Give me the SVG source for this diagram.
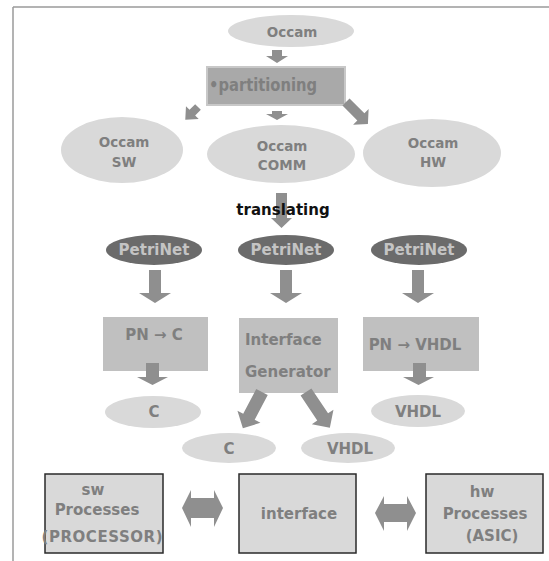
<svg xmlns="http://www.w3.org/2000/svg" width="549" height="561" viewBox="0 0 549 561">
<style>
.t{font-family:"DejaVu Sans","Liberation Sans",sans-serif;font-weight:bold;fill:#7f7f7f;text-anchor:middle}
.ell{fill:#d9d9d9}
.pn{fill:#6b6b6b}
.pnt{font-family:"DejaVu Sans","Liberation Sans",sans-serif;font-weight:bold;fill:#c4c4c4;text-anchor:middle;font-size:15px}
.box{fill:#c0c0c0}
.bbox{fill:#d9d9d9;stroke:#2a2a2a;stroke-width:1.5}
.arr{fill:#8f8f8f}
</style>
<rect width="549" height="561" fill="#ffffff"/>
<g id="frame" fill="none" stroke="#9a9a9a" stroke-width="1.5">
<line x1="13" y1="7" x2="549" y2="7"/>
<line x1="13" y1="7" x2="13" y2="561"/>
</g>
<g id="occam-top"><ellipse class="ell" cx="291" cy="31" rx="63" ry="16"/><text class="t" x="292" y="37" font-size="13.5">Occam</text></g>
<g id="partitioning"><rect x="207" y="67" width="138" height="38" fill="#a9a9a9" stroke="#c8c8c8" stroke-width="2"/><text class="t" x="209" y="91" font-size="17" style="text-anchor:start" textLength="108" lengthAdjust="spacingAndGlyphs">•partitioning</text></g>
<g id="occam-sw"><ellipse class="ell" cx="122" cy="150" rx="61" ry="33"/><text class="t" x="124" y="147" font-size="13.5">Occam</text><text class="t" x="124" y="167" font-size="13.5">SW</text></g>
<g id="occam-comm"><ellipse class="ell" cx="281" cy="154" rx="74" ry="29"/><text class="t" x="282" y="151" font-size="13.5">Occam</text><text class="t" x="282" y="170" font-size="13.5">COMM</text></g>
<g id="occam-hw"><ellipse class="ell" cx="432" cy="153" rx="69" ry="34"/><text class="t" x="433" y="148" font-size="13.5">Occam</text><text class="t" x="433" y="167" font-size="13.5">HW</text></g>
<g id="petrinet-left"><ellipse class="pn" cx="154" cy="250" rx="48" ry="15"/><text class="pnt" x="154" y="255">PetriNet</text></g>
<g id="petrinet-mid"><ellipse class="pn" cx="286" cy="250" rx="48" ry="15"/><text class="pnt" x="286" y="255">PetriNet</text></g>
<g id="petrinet-right"><ellipse class="pn" cx="419" cy="250" rx="48" ry="15"/><text class="pnt" x="419" y="255">PetriNet</text></g>
<g id="pn-c"><rect class="box" x="103" y="317" width="105" height="54"/><text class="t" x="154" y="340" font-size="15">PN → C</text></g>
<g id="interface-generator"><rect class="box" x="239" y="318" width="99" height="75"/><text class="t" x="245" y="345" font-size="15" style="text-anchor:start">Interface</text><text class="t" x="245" y="377" font-size="15" style="text-anchor:start">Generator</text></g>
<g id="pn-vhdl"><rect class="box" x="363" y="317" width="116" height="54"/><text class="t" x="415" y="350" font-size="15">PN → VHDL</text></g>
<g id="c-left"><ellipse class="ell" cx="153" cy="412" rx="48" ry="16"/><text class="t" x="154" y="417" font-size="15">C</text></g>
<g id="vhdl-right"><ellipse class="ell" cx="418" cy="411" rx="47" ry="16"/><text class="t" x="418" y="417" font-size="15">VHDL</text></g>
<g id="c-mid"><ellipse class="ell" cx="229" cy="448" rx="47" ry="15"/><text class="t" x="229" y="454" font-size="15">C</text></g>
<g id="vhdl-mid"><ellipse class="ell" cx="348" cy="448" rx="47" ry="15"/><text class="t" x="350" y="454" font-size="15">VHDL</text></g>
<g id="sw-processes"><rect class="bbox" x="45" y="474" width="118" height="79"/><text class="t" x="93" y="495" font-size="15">sw</text><text class="t" x="97" y="515" font-size="15">Processes</text><text class="t" x="102" y="542" font-size="15" textLength="121" lengthAdjust="spacing">(PROCESSOR)</text></g>
<g id="interface"><rect class="bbox" x="239" y="474" width="117" height="79"/><text class="t" x="299" y="519" font-size="15">interface</text></g>
<g id="hw-processes"><rect class="bbox" x="426" y="474" width="117" height="79"/><text class="t" x="482" y="497" font-size="15">hw</text><text class="t" x="485" y="519" font-size="15">Processes</text><text class="t" x="492" y="541" font-size="15">(ASIC)</text></g>
<g id="connectors" class="arr">
<polygon points="272,50 282,50 282,56 288,56 277,63 266,56 272,56"/>
<polygon points="272,111 282,111 282,114 288,114 277,120 266,114 272,114"/>
<polygon transform="translate(198,107) rotate(45)" points="-4,0 4,0 4,8 9,8 0,18 -9,8 -4,8"/>
<polygon transform="translate(346,102) rotate(-45)" points="-5,0 5,0 5,21 11,21 0,31 -11,21 -5,21"/>
<polygon points="276,193 287,193 287,218 292,218 281.5,228 271,218 276,218"/>
<polygon points="149,270 161,270 161,293 171,293 155,303 139,293 149,293"/>
<polygon points="280,270 292,270 292,293 302,293 286,303 270,293 280,293"/>
<polygon points="412,270 424,270 424,293 434,293 418,303 402,293 412,293"/>
<polygon points="146,363 159,363 159,377 168,377 152.5,385 137,377 146,377"/>
<polygon points="413,363 426,363 426,377 434,377 418.5,385 403,377 413,377"/>
<polygon transform="translate(262,392) rotate(27.8)" points="-6.5,0 6.5,0 6.5,28 13,28 0,41 -13,28 -6.5,28"/>
<polygon transform="translate(306,392) rotate(-33.7)" points="-6.5,0 6.5,0 6.5,30 13,30 0,43 -13,30 -6.5,30"/>
<polygon points="182,508 191,490 191,498 214,498 214,490 223,508 214,527 214,518 191,518 191,527"/>
<polygon points="375,513 384,496 384,504 407,504 407,496 416,513 407,531 407,522 384,522 384,531"/>
</g>
<g id="label-translating"><text x="283" y="215" font-family="'DejaVu Sans','Liberation Sans',sans-serif" font-weight="bold" font-size="15" fill="#111" text-anchor="middle">translating</text></g>
</svg>
